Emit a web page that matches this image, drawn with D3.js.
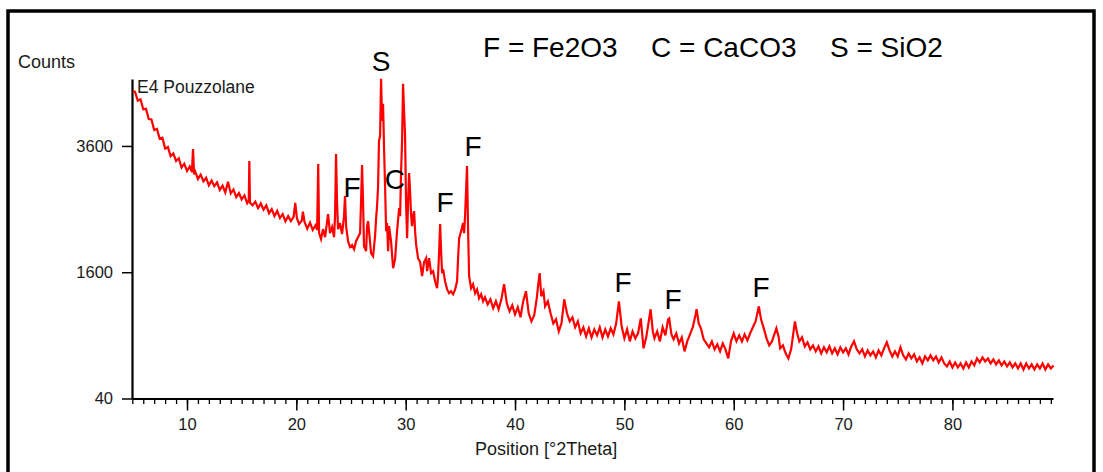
<!DOCTYPE html>
<html lang="en">
<head>
<meta charset="UTF-8">
<title>E4 Pouzzolane - XRD</title>
<script src="https://d3js.org/d3.v7.min.js"></script>
<style>
    body { margin: 0; background: #fff; overflow: hidden; }
    svg { display: block; font-family: "Liberation Sans", Arial, sans-serif; }
    .axis path, .axis line { stroke: #000; }
    .axis text { fill: #1a1a1a; font-size: 16.5px; font-family: "Liberation Sans", Arial, sans-serif; }
</style>
</head>
<body>
<script>
    // ---- data: [2Theta, counts] ----
    const scanLow = [
        [5.05,4720],[5.25,4700],[5.5,4510],[5.75,4540],[6.0,4330],[6.25,4340],[6.5,4130],[6.75,4120],
        [7.0,3910],[7.25,3930],[7.5,3740],[7.75,3760],[8.0,3550],[8.25,3580],[8.5,3410],[8.75,3460],
        [9.0,3320],[9.25,3370],[9.5,3200],[9.75,3270],[10.0,3140],[10.25,3220],[10.45,3120],[10.55,3540],
        [10.65,3080],[10.75,3130],[11.0,3000],[11.25,3075],[11.5,2960],[11.75,3020],[12.0,2890],[12.25,2970],
        [12.5,2875],[12.75,2940],[13.0,2810],[13.25,2885],[13.5,2770],[13.75,2950],[14.0,2755],[14.25,2820],
        [14.5,2695],[14.75,2760],[15.0,2655],[15.25,2720],[15.5,2595],[15.65,2640],[15.7,3320],[15.76,2600],
        [16.0,2560],[16.25,2620],[16.5,2515],[16.75,2590],[17.0,2490],[17.25,2560],[17.5,2435],[17.75,2500],
        [18.0,2390],[18.25,2470],[18.5,2360],[18.75,2420],[19.0,2310],[19.25,2390],[19.5,2313],[19.75,2380],
        [19.9,2600],[20.05,2360],[20.25,2270],[20.5,2320],[20.6,2460],[20.75,2300],[21.0,2200],[21.25,2290],
        [21.5,2180],[21.75,2250],[21.9,2180],[22.0,3265]
    ];
    const scanMid = [
        [22.08,2134],[22.26,2047],[22.44,2193],[22.63,2075],[22.9,2421],[23.08,2134],[23.27,2223],[23.45,2075],
        [23.54,2390],[23.63,3449],[23.72,2629],[23.81,2193],[23.99,2283],[24.18,2119],[24.36,2390],[24.45,2711],
        [24.55,2238],[24.73,2018],[24.91,1934],[25.1,1961],[25.28,1905],[25.46,2018],[25.64,2075],[25.83,2134],
        [25.92,2629],[26.01,3247],[26.1,2629],[26.19,1947],[26.38,1878],[26.47,2238],[26.56,2313],[26.65,2163],
        [26.83,1850],[27.02,1810],[27.2,2090],[27.29,2344],[27.38,2548],[27.47,2844],[27.56,3696],[27.66,3793],
        [27.75,4989],[27.84,4092],[27.93,4444],[28.02,3562],[28.12,2844],[28.21,2163],[28.3,2283],[28.39,1878],
        [28.48,2238],[28.66,2018],[28.85,1651],[29.03,1770],[29.21,2163],[29.4,2516],[29.49,2390],[29.58,3140],
        [29.67,3696],[29.76,4878],[29.85,4298],[29.94,3832],[30.03,2629],[30.13,2061],[30.22,2629],[30.31,3104],
        [30.4,2794],[30.49,2421],[30.58,2238],[30.67,2390],[30.77,2468],[30.86,2163],[30.95,1975],[31.13,1783],
        [31.32,1730],[31.5,1550],[31.68,1730],[31.87,1783],[31.96,1613],[32.14,1783],[32.32,1588],[32.51,1613],
        [32.69,1488],[32.87,1403],[32.96,1550],[33.06,1878],[33.15,2268],[33.24,1878],[33.33,1588],[33.42,1640],
        [33.6,1488],[33.79,1390],[33.97,1345],[34.15,1368],[34.34,1333],[34.52,1390],[34.7,1488],[34.8,1810],
        [34.89,2061],[35.07,2163],[35.25,2283],[35.34,2134],[35.43,2390],[35.52,2794],[35.61,3229],[35.7,2238],
        [35.8,1550],[35.98,1403],[36.16,1451],[36.35,1345],[36.53,1390],[36.71,1287],[36.9,1333],[37.08,1253]
    ];
    const scanHigh = [
        [37.25,1298],[37.5,1219],[37.75,1275],[38.0,1176],[38.25,1253],[38.5,1165],[38.75,1275],[39.0,1451],
        [39.25,1230],[39.5,1143],[39.75,1208],[40.0,1111],[40.25,1187],[40.5,1080],[40.75,1253],[41.0,1368],
        [41.25,1122],[41.5,1038],[41.75,1100],[42.0,1298],[42.1,1427],[42.25,1588],[42.4,1310],[42.6,1368],
        [42.75,1197],[43.0,1253],[43.25,1122],[43.5,1018],[43.75,1059],[44.0,938],[44.25,1018],[44.5,1275],
        [44.75,1122],[45.0,1038],[45.25,1080],[45.5,978],[45.75,1038],[46.0,919],[46.25,978],[46.5,890],
        [46.75,968],[47.0,881],[47.25,958],[47.5,900],[47.75,978],[48.0,881],[48.25,958],[48.5,890],
        [48.75,968],[49.0,910],[49.25,1018],[49.5,1253],[49.75,988],[50.0,872],[50.25,958],[50.5,844],
        [50.75,938],[51.0,872],[51.25,919],[51.5,1069],[51.75,781],[52.0,881],[52.2,1018],[52.4,1165],
        [52.6,938],[52.75,872],[53.0,938],[53.25,844],[53.5,978],[53.75,900],[54.0,1059],[54.1,1069],
        [54.3,910],[54.5,863],[54.75,919],[55.0,825],[55.25,881],[55.5,754],[55.75,844],[56.0,910],
        [56.25,978],[56.5,1100],[56.6,1165],[56.8,1018],[57.0,968],[57.25,863],[57.5,825],[57.75,790],
        [58.0,844],[58.25,772],[58.5,816],[58.75,754],[59.0,825],[59.25,772],[59.5,694],[59.75,844],
        [60.0,919],[60.25,844],[60.5,900],[60.75,844],[61.0,910],[61.25,853],[61.5,919],[61.75,978],
        [62.0,1038],[62.3,1197],[62.5,1059],[62.75,968],[63.0,872],[63.25,807],[63.5,844],[63.9,968],
        [64.1,890],[64.25,781],[64.5,807],[64.75,737],[65.0,694],[65.25,772],[65.6,1038],[65.8,919],
        [66.0,844],[66.25,881],[66.5,798],[66.75,835],[67.0,772],[67.25,807],[67.5,754],[67.75,798],
        [68.0,737],[68.25,790],[68.5,746],[68.75,798],[69.0,737],[69.25,781],[69.5,728],[69.75,790],
        [70.0,746],[70.25,781],[70.5,728],[70.75,798],[71.0,844],[71.25,772],[71.5,737],[71.75,772],
        [72.0,711],[72.25,763],[72.5,720],[72.75,754],[73.0,703],[73.25,763],[73.5,720],[73.75,781],
        [74.0,835],[74.25,763],[74.5,711],[74.75,754],[75.0,711],[75.25,790],[75.5,720],[75.75,686],
        [76.0,737],[76.25,694],[76.5,728],[76.75,669],[77.0,703],[77.25,653],[77.5,711],[77.75,678],
        [78.0,720],[78.25,678],[78.5,711],[78.75,661],[79.0,703],[79.25,653],[79.5,629],[79.75,669],
        [80.0,621],[80.25,661],[80.5,621],[80.75,653],[81.0,613],[81.25,661],[81.5,621],[81.75,669],
        [82.0,637],[82.25,694],[82.5,661],[82.75,703],[83.0,669],[83.25,694],[83.5,653],[83.75,686],
        [84.0,645],[84.25,678],[84.5,637],[84.75,669],[85.0,629],[85.25,661],[85.5,621],[85.75,653],
        [86.0,613],[86.25,653],[86.5,605],[86.75,653],[87.0,613],[87.25,645],[87.5,605],[87.75,645],
        [88.0,613],[88.25,653],[88.5,605],[88.75,645],[89.0,613],[89.25,637]
    ];

    // axis ticks
    const xTickValues = [10, 20, 30, 40, 50, 60, 70, 80];
    const xMinorTicks = d3.range(5, 90);
    const yTickValues = [400, 1600, 3600];
    const yTickLabels = ["40", "1600", "3600"];

    // phase labels above the peaks
    const labelText  = ["S", "F", "C", "F", "F", "F", "F", "F"];
    const labelAngle = [27.74, 25.09, 29.02, 33.60, 36.16, 49.88, 54.45, 62.50];
    const labelCount = [5166, 2696, 2829, 2455, 3413, 1360, 1169, 1303];

    const legendItems = ["F = Fe2O3", "C = CaCO3", "S = SiO2"];

    const width = 1103, height = 472;
    const svg = d3.select("body").append("svg")
        .attr("width", width)
        .attr("height", height);

    // outer frame
    svg.append("rect")
        .attr("x", 8).attr("y", 11)
        .attr("width", 1086).attr("height", 480)
        .attr("fill", "none")
        .attr("stroke", "#000")
        .attr("stroke-width", 3.5);

    const x = d3.scaleLinear().domain([4.97, 89.2]).range([132, 1053]);
    const y = d3.scaleSqrt().domain([400, 4985]).range([398.5, 79]);

    // minor x ticks
    svg.append("g")
        .attr("class", "axis")
        .attr("transform", "translate(0," + y(400) + ")")
        .call(d3.axisBottom(x).tickValues(xMinorTicks).tickSize(5.5).tickSizeOuter(0).tickFormat(""))
        .call(g => g.select(".domain").remove())
        .selectAll("line").attr("stroke-width", 1.3);

    // major x ticks + labels
    svg.append("g")
        .attr("class", "axis")
        .attr("transform", "translate(0," + y(400) + ")")
        .call(d3.axisBottom(x).tickValues(xTickValues).tickSize(12).tickSizeOuter(0).tickPadding(8).tickFormat(d3.format("d")))
        .call(g => g.select(".domain").attr("stroke-width", 2.2))
        .call(g => g.selectAll("line").attr("stroke-width", 1.5));

    // y axis
    svg.append("g")
        .attr("class", "axis")
        .attr("transform", "translate(132,0)")
        .call(d3.axisLeft(y).tickValues(yTickValues).tickSize(10).tickSizeOuter(0).tickPadding(9)
            .tickFormat((d, i) => yTickLabels[i]))
        .call(g => g.select(".domain").attr("stroke-width", 2.2))
        .call(g => g.selectAll("line").attr("stroke-width", 1.5));

    // the scan
    const scan = scanLow.concat(scanMid, scanHigh);
    const line = d3.line()
        .x(d => x(d[0]))
        .y(d => y(d[1]));

    svg.append("path")
        .datum(scan)
        .attr("fill", "none")
        .attr("stroke", "#ff0000")
        .attr("stroke-width", 2.2)
        .attr("d", line);

    // peak labels
    svg.selectAll("text.peak")
        .data(labelText)
        .enter().append("text")
        .attr("class", "peak")
        .attr("x", (d, i) => x(labelAngle[i]))
        .attr("y", (d, i) => y(labelCount[i]))
        .attr("text-anchor", "middle")
        .attr("font-size", 28)
        .attr("fill", "#000")
        .text(d => d);

    // legend line at top
    const legendX = [483, 651, 830];
    svg.selectAll("text.legend")
        .data(legendItems)
        .enter().append("text")
        .attr("class", "legend")
        .attr("x", (d, i) => legendX[i])
        .attr("y", 57)
        .attr("font-size", 28)
        .attr("fill", "#000")
        .text(d => d);

    // titles
    svg.append("text").attr("x", 18).attr("y", 68)
        .attr("font-size", 18).attr("fill", "#1a1a1a").text("Counts");
    svg.append("text").attr("x", 137).attr("y", 93)
        .attr("font-size", 17.5).attr("fill", "#1a1a1a").text("E4 Pouzzolane");
    svg.append("text").attr("x", 475).attr("y", 455)
        .attr("font-size", 18).attr("fill", "#1a1a1a").text("Position [°2Theta]");
</script>
</body>
</html>
